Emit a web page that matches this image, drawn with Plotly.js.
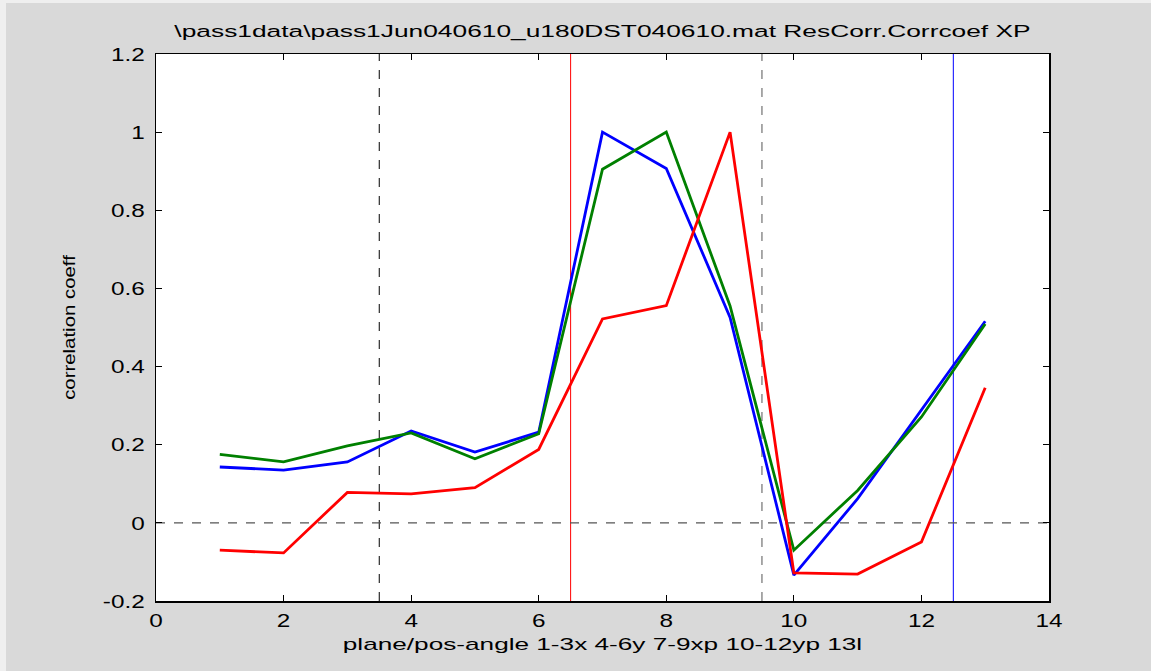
<!DOCTYPE html>
<html>
<head>
<meta charset="utf-8">
<script src="https://cdn.plot.ly/plotly-3.0.1.min.js"></script>
<style>
html,body{margin:0;padding:0;background:#efefef;width:1151px;height:671px;overflow:hidden;}
#chart{position:absolute;left:6px;top:3px;width:1145px;height:668px;}
</style>
</head>
<body>
<div id="chart"></div>
<script>
const xIdx = [1,2,3,4,5,6,7,8,9,10,11,12,13];
const blueVals  = [0.143,0.135,0.156,0.235,0.181,0.232,1.0,0.907,0.526,-0.134,0.062,0.288,0.516];
const greenVals = [0.175,0.156,0.197,0.230,0.164,0.228,0.905,1.0,0.555,-0.070,0.083,0.271,0.509];
const redVals   = [-0.070,-0.077,0.078,0.074,0.090,0.188,0.522,0.556,1.0,-0.128,-0.131,-0.049,0.346];
const dividerX = [3.5,6.5,9.5,12.5];
const dividerColor = ['#000000','#ff0000','#555555','#0000ff'];
const dividerDash = ['dash','solid','dash','solid'];
const zeroY = 0;
const xTicks = [0,2,4,6,8,10,12,14];
const yTicks = [-0.2,0,0.2,0.4,0.6,0.8,1,1.2];
const yTickText = ['-0.2','0','0.2','0.4','0.6','0.8','1','1.2'];
const titleText = '\\pass1data\\pass1Jun040610_u180DST040610.mat ResCorr.Corrcoef XP';
const xTitleText = 'plane/pos-angle 1-3x 4-6y 7-9xp 10-12yp 13l';
const yTitleText = 'correlation coeff';

const traces = [
  {x:xIdx,y:blueVals,mode:'lines',line:{color:'#0000ff',width:2.8},hoverinfo:'skip'},
  {x:xIdx,y:greenVals,mode:'lines',line:{color:'#008000',width:2.8},hoverinfo:'skip'},
  {x:xIdx,y:redVals,mode:'lines',line:{color:'#ff0000',width:2.8},hoverinfo:'skip'}
];
const shapes = dividerX.map((v,i)=>({type:'line',xref:'x',yref:'paper',x0:v,x1:v,y0:0,y1:1,
  line:{color:dividerColor[i],width:1,dash:dividerDash[i]},layer:'below'}));
shapes.push({type:'line',xref:'paper',yref:'y',x0:0,x1:1,y0:zeroY,y1:zeroY,line:{color:'#555555',width:1.2,dash:'dash'},layer:'below'});

const fontFam = '"Liberation Sans", Arial, Helvetica, sans-serif';
const layout = {
  width:1145,height:668,
  paper_bgcolor:'#d9d9d9',plot_bgcolor:'#ffffff',
  margin:{l:150,r:102,t:51,b:70},
  showlegend:false,
  font:{family:fontFam,size:17,color:'#000'},
  title:{text:titleText,
    font:{family:fontFam,size:17,color:'#000'},x:0.5,xref:'paper',xanchor:'center',y:1,yref:'paper',yanchor:'bottom',pad:{b:17}},
  xaxis:{range:[0,14],tickvals:xTicks,ticktext:xTicks.map(String),ticks:'inside',ticklen:6,tickcolor:'#000',
    showgrid:false,zeroline:false,showline:true,linecolor:'#000',linewidth:1.5,mirror:'ticks',
    tickfont:{size:19},ticklabelstandoff:2,title:{text:xTitleText,font:{size:17},standoff:8}},
  yaxis:{range:[-0.2,1.2],tickvals:yTicks,ticktext:yTickText,ticks:'inside',ticklen:6,tickcolor:'#000',
    showgrid:false,zeroline:false,showline:true,linecolor:'#000',linewidth:1.5,mirror:'ticks',
    tickfont:{size:19},ticklabelstandoff:6,title:{text:yTitleText,font:{size:17},standoff:32}},
  shapes:shapes
};

function stretch(el, s){
  const x = parseFloat(el.getAttribute('x')) || 0;
  const t = el.getAttribute('transform') || '';
  el.setAttribute('transform', t + ' translate(' + x + ',0) scale(' + s + ',1) translate(' + (-x) + ',0)');
}
Plotly.newPlot('chart',traces,layout,{staticPlot:true,displayModeBar:false}).then(gd=>{
  gd.querySelectorAll('.gtitle').forEach(e=>stretch(e,1.55));
  gd.querySelectorAll('.xtick text').forEach(e=>stretch(e,1.28));
  gd.querySelectorAll('.ytick text').forEach(e=>stretch(e,1.28));
  gd.querySelectorAll('.g-xtitle text').forEach(e=>stretch(e,1.54));
  gd.querySelectorAll('.g-ytitle text').forEach(e=>stretch(e,1.2));
});
</script>
</body>
</html>
